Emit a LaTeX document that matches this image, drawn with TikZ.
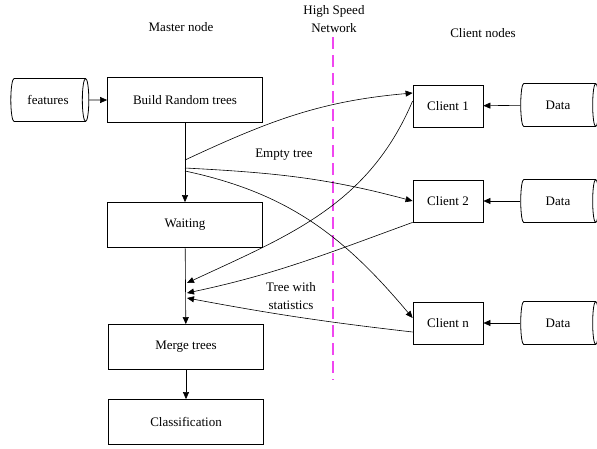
\documentclass[tikz,border=0pt]{standalone}
\usepackage{fontspec}
\setmainfont{Liberation Serif}
\usetikzlibrary{arrows.meta,shapes.geometric}
\definecolor{netpink}{RGB}{240,70,240}
\begin{document}
\begin{tikzpicture}[x=1pt,y=-1pt,
  every node/.style={font=\fontsize{13}{18}\selectfont},
  box/.style={draw,thick,rectangle,inner sep=0pt},
  bigbox/.style={box,minimum width=155pt,minimum height=45pt},
  clientbox/.style={box,minimum width=70pt,minimum height=42pt},
  store/.style={draw,thick,cylinder,aspect=0.7,inner sep=0pt,minimum width=43pt,minimum height=78pt},
  lbl/.style={inner sep=0pt,align=center},
  arr/.style={-{Triangle[width=6pt,length=7pt]},semithick},
  ln/.style={semithick}]
\useasboundingbox (0,0) rectangle (597,448);
% column headings
\node[lbl] (hmaster) at (181,27) {Master node};
\node[lbl] (hnet) at (334,19) {High Speed\\Network};
\node[lbl] (hclient) at (483,33) {Client nodes};
% network divider
\coordinate (ntop) at (333,37);
\coordinate (nbot) at (333,380);
\draw[netpink,line width=2.6pt,dash pattern=on 12pt off 6pt] (ntop) -- (nbot);
% master side
\node[store] (feat) at (48,100) {features};
\node[bigbox] (build) at (185,100) {Build Random trees};
\node[bigbox] (wait) at (185,225) {Waiting};
\node[bigbox] (merge) at (186,347) {Merge trees};
\node[bigbox] (cls) at (186,422) {Classification};
% client side
\node[clientbox] (c1) at (448,106) {Client 1};
\node[clientbox] (c2) at (448,201) {Client 2};
\node[clientbox] (cn) at (448,323) {Client n};
\node[store] (d1) at (558,105) {Data};
\node[store] (d2) at (558,201) {Data};
\node[store] (dn) at (558,323) {Data};
% labels
\node[lbl] (lempty) at (284,155) {Empty tree};
\node[lbl] (lstats) at (291,296) {Tree with\\statistics};
% coordinates on the trunk
\coordinate (s1) at (185,160);
\coordinate (s2) at (185,168);
\coordinate (s3) at (185,171);
\coordinate (r1) at (187,283);
\coordinate (r2) at (187,293);
\coordinate (r3) at (187,298);
% connectors
\draw[arr] (feat) -- (build);
\draw[arr] (build) -- (wait);
\draw[arr] (wait) -- (merge);
\draw[arr] (merge) -- (cls);
\draw[arr] (d1) -- (c1);
\draw[arr] (d2) -- (c2);
\draw[arr] (dn) -- (cn);
\draw[arr] (s1) to[out=25,in=185] ([yshift=13pt]c1.west);
\draw[arr] (s2) to[out=-3,in=165] (c2.west);
\draw[arr] (s3) to[out=-12,in=130] ([yshift=5pt]cn.west);
\draw[arr] ([yshift=5pt]c1.west) to[out=247,in=25] (r1);
\draw[arr] (c2.south west) to[out=200,in=12] (r2);
\draw[arr] ([yshift=-9pt]cn.west) to[bend left=2] (r3);
\end{tikzpicture}
\end{document}
